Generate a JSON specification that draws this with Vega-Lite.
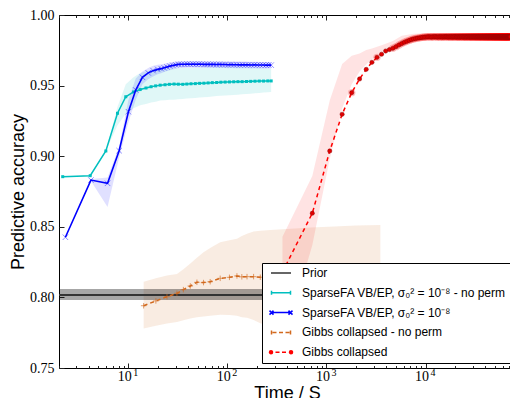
{
"$schema": "https://vega.github.io/schema/vega-lite/v6.json",
"width": 456, "height": 353,
"autosize": {"type": "none"},
"padding": {"left": 59, "top": 15, "right": 0, "bottom": 30},
"background": "white",
"config": {
  "view": {"stroke": "#000", "strokeWidth": 1},
  "axis": {"grid": false, "domain": false, "labelFont": "Liberation Serif", "labelFontSize": 14, "labelColor": "#000", "titleFont": "Liberation Sans", "titleFontSize": 18, "titleFontWeight": "normal", "titleColor": "#000", "tickColor": "#222", "tickWidth": 1, "labelFlush": false, "labelOverlap": false, "labelBound": false}
},
"datasets": {
  "prior": [{"s": "prior", "y": 0.8017, "lo": 0.7982, "hi": 0.8060}],
  "vbnp": [
    {"s":"vbnp","x":2.18,"y":0.8855,"lo":0.8855,"hi":0.8855},
    {"s":"vbnp","x":4.13,"y":0.8862,"lo":0.8862,"hi":0.8862},
    {"s":"vbnp","x":5.94,"y":0.9037,"lo":0.9037,"hi":0.9037},
    {"s":"vbnp","x":7.79,"y":0.9304,"lo":0.922,"hi":0.935},
    {"s":"vbnp","x":9.44,"y":0.9421,"lo":0.930,"hi":0.951},
    {"s":"vbnp","x":11.3,"y":0.9455,"lo":0.934,"hi":0.956},
    {"s":"vbnp","x":13.2,"y":0.9472,"lo":0.936,"hi":0.959},
    {"s":"vbnp","x":15.1,"y":0.9483,"lo":0.937,"hi":0.960},
    {"s":"vbnp","x":17.0,"y":0.9492,"lo":0.938,"hi":0.961},
    {"s":"vbnp","x":18.9,"y":0.9498,"lo":0.9385,"hi":0.9615},
    {"s":"vbnp","x":21,"y":0.9503,"lo":0.9395,"hi":0.9617},
    {"s":"vbnp","x":23.5,"y":0.9506,"lo":0.9397,"hi":0.9619},
    {"s":"vbnp","x":26,"y":0.9509,"lo":0.9399,"hi":0.9621},
    {"s":"vbnp","x":29,"y":0.9511,"lo":0.9400,"hi":0.9622},
    {"s":"vbnp","x":32,"y":0.9510,"lo":0.9403,"hi":0.9623},
    {"s":"vbnp","x":35.5,"y":0.9509,"lo":0.9405,"hi":0.9624},
    {"s":"vbnp","x":39,"y":0.9511,"lo":0.9408,"hi":0.9625},
    {"s":"vbnp","x":43,"y":0.9513,"lo":0.9410,"hi":0.9625},
    {"s":"vbnp","x":47.5,"y":0.9514,"lo":0.9413,"hi":0.9626},
    {"s":"vbnp","x":52.5,"y":0.9516,"lo":0.9415,"hi":0.9627},
    {"s":"vbnp","x":58,"y":0.9517,"lo":0.9418,"hi":0.9628},
    {"s":"vbnp","x":64,"y":0.9519,"lo":0.9420,"hi":0.9628},
    {"s":"vbnp","x":70.5,"y":0.9521,"lo":0.9423,"hi":0.9629},
    {"s":"vbnp","x":78,"y":0.9522,"lo":0.9426,"hi":0.9630},
    {"s":"vbnp","x":86,"y":0.9524,"lo":0.9428,"hi":0.9630},
    {"s":"vbnp","x":95,"y":0.9525,"lo":0.9430,"hi":0.9630},
    {"s":"vbnp","x":105,"y":0.9526,"lo":0.9432,"hi":0.9630},
    {"s":"vbnp","x":116,"y":0.9527,"lo":0.9434,"hi":0.9630},
    {"s":"vbnp","x":128,"y":0.9528,"lo":0.9436,"hi":0.9630},
    {"s":"vbnp","x":141,"y":0.9528,"lo":0.9438,"hi":0.9629},
    {"s":"vbnp","x":156,"y":0.9529,"lo":0.9441,"hi":0.9628},
    {"s":"vbnp","x":172,"y":0.9530,"lo":0.9443,"hi":0.9627},
    {"s":"vbnp","x":190,"y":0.9531,"lo":0.9446,"hi":0.9626},
    {"s":"vbnp","x":210,"y":0.9532,"lo":0.9448,"hi":0.9625},
    {"s":"vbnp","x":232,"y":0.9532,"lo":0.9451,"hi":0.9623},
    {"s":"vbnp","x":256,"y":0.9533,"lo":0.9453,"hi":0.9621},
    {"s":"vbnp","x":277,"y":0.9533,"lo":0.9455,"hi":0.9620}
  ],
  "vb": [
    {"s":"vb","x":2.32,"y":0.8426,"lo":0.8426,"hi":0.8426},
    {"s":"vb","x":4.2,"y":0.8831,"lo":0.8825,"hi":0.8838},
    {"s":"vb","x":6.18,"y":0.8808,"lo":0.8640,"hi":0.8850},
    {"s":"vb","x":8.09,"y":0.9039,"lo":0.8990,"hi":0.9067},
    {"s":"vb","x":10.04,"y":0.9315,"lo":0.9240,"hi":0.9400},
    {"s":"vb","x":11.9,"y":0.9469,"lo":0.9400,"hi":0.9550},
    {"s":"vb","x":13.9,"y":0.9559,"lo":0.9510,"hi":0.9600},
    {"s":"vb","x":15.9,"y":0.9590,"lo":0.9545,"hi":0.9625},
    {"s":"vb","x":17.8,"y":0.9606,"lo":0.9565,"hi":0.9640},
    {"s":"vb","x":19.8,"y":0.9615,"lo":0.9580,"hi":0.9648},
    {"s":"vb","x":21.5,"y":0.9620,"lo":0.9588,"hi":0.9652},
    {"s":"vb","x":23,"y":0.9626,"lo":0.9596,"hi":0.9655},
    {"s":"vb","x":24.6,"y":0.9632,"lo":0.9603,"hi":0.9659},
    {"s":"vb","x":26.3,"y":0.9638,"lo":0.9609,"hi":0.9663},
    {"s":"vb","x":28.2,"y":0.9643,"lo":0.9614,"hi":0.9667},
    {"s":"vb","x":30.1,"y":0.9647,"lo":0.9619,"hi":0.9670},
    {"s":"vb","x":32.2,"y":0.9650,"lo":0.9622,"hi":0.9672},
    {"s":"vb","x":34.5,"y":0.9651,"lo":0.9624,"hi":0.9673},
    {"s":"vb","x":36.9,"y":0.9651,"lo":0.9625,"hi":0.9673},
    {"s":"vb","x":39.5,"y":0.9652,"lo":0.9626,"hi":0.9674},
    {"s":"vb","x":42.2,"y":0.9651,"lo":0.9626,"hi":0.9674},
    {"s":"vb","x":45.2,"y":0.9652,"lo":0.9627,"hi":0.9674},
    {"s":"vb","x":48.3,"y":0.9651,"lo":0.9626,"hi":0.9674},
    {"s":"vb","x":51.7,"y":0.9652,"lo":0.9627,"hi":0.9674},
    {"s":"vb","x":55.3,"y":0.9651,"lo":0.9626,"hi":0.9674},
    {"s":"vb","x":59.2,"y":0.9650,"lo":0.9625,"hi":0.9673},
    {"s":"vb","x":63.3,"y":0.9651,"lo":0.9626,"hi":0.9673},
    {"s":"vb","x":67.8,"y":0.9650,"lo":0.9625,"hi":0.9673},
    {"s":"vb","x":72.5,"y":0.9650,"lo":0.9625,"hi":0.9672},
    {"s":"vb","x":77.6,"y":0.9649,"lo":0.9624,"hi":0.9672},
    {"s":"vb","x":83,"y":0.9650,"lo":0.9625,"hi":0.9672},
    {"s":"vb","x":88.8,"y":0.9649,"lo":0.9624,"hi":0.9672},
    {"s":"vb","x":95,"y":0.9649,"lo":0.9624,"hi":0.9671},
    {"s":"vb","x":101.7,"y":0.9648,"lo":0.9623,"hi":0.9671},
    {"s":"vb","x":108.8,"y":0.9649,"lo":0.9624,"hi":0.9671},
    {"s":"vb","x":116.4,"y":0.9648,"lo":0.9623,"hi":0.9671},
    {"s":"vb","x":124.6,"y":0.9648,"lo":0.9623,"hi":0.9670},
    {"s":"vb","x":133.3,"y":0.9647,"lo":0.9622,"hi":0.9670},
    {"s":"vb","x":142.6,"y":0.9648,"lo":0.9623,"hi":0.9670},
    {"s":"vb","x":152.6,"y":0.9647,"lo":0.9622,"hi":0.9670},
    {"s":"vb","x":163.3,"y":0.9647,"lo":0.9622,"hi":0.9669},
    {"s":"vb","x":174.7,"y":0.9646,"lo":0.9621,"hi":0.9669},
    {"s":"vb","x":186.9,"y":0.9647,"lo":0.9622,"hi":0.9669},
    {"s":"vb","x":200,"y":0.9646,"lo":0.9621,"hi":0.9669},
    {"s":"vb","x":214,"y":0.9646,"lo":0.9621,"hi":0.9668},
    {"s":"vb","x":229,"y":0.9646,"lo":0.9621,"hi":0.9668},
    {"s":"vb","x":245,"y":0.9645,"lo":0.9620,"hi":0.9668},
    {"s":"vb","x":262,"y":0.9646,"lo":0.9621,"hi":0.9668},
    {"s":"vb","x":277,"y":0.9645,"lo":0.9620,"hi":0.9667}
  ],
  "gnp": [
    {"s":"gnp","x":14.3,"y":0.7941,"lo":0.778,"hi":0.811},
    {"s":"gnp","x":19,"y":0.7975,"lo":0.780,"hi":0.8135},
    {"s":"gnp","x":24.6,"y":0.8005,"lo":0.7815,"hi":0.8155},
    {"s":"gnp","x":31,"y":0.8029,"lo":0.7825,"hi":0.8165},
    {"s":"gnp","x":36,"y":0.8055,"lo":0.7838,"hi":0.820},
    {"s":"gnp","x":42.3,"y":0.8081,"lo":0.785,"hi":0.824},
    {"s":"gnp","x":49.3,"y":0.8107,"lo":0.786,"hi":0.828},
    {"s":"gnp","x":57.5,"y":0.8105,"lo":0.7865,"hi":0.832},
    {"s":"gnp","x":67.1,"y":0.8111,"lo":0.787,"hi":0.835},
    {"s":"gnp","x":84.7,"y":0.8135,"lo":0.7878,"hi":0.839},
    {"s":"gnp","x":105,"y":0.8142,"lo":0.7875,"hi":0.8405},
    {"s":"gnp","x":125,"y":0.8152,"lo":0.787,"hi":0.8415},
    {"s":"gnp","x":140,"y":0.8146,"lo":0.786,"hi":0.8435},
    {"s":"gnp","x":158,"y":0.8147,"lo":0.7855,"hi":0.845},
    {"s":"gnp","x":184,"y":0.8147,"lo":0.784,"hi":0.8466},
    {"s":"gnp","x":215,"y":0.8143,"lo":0.7817,"hi":0.8472},
    {"s":"gnp","x":271,"y":0.8143,"lo":0.780,"hi":0.8478},
    {"s":"gnp","x":400,"y":0.8150,"lo":0.780,"hi":0.8485},
    {"s":"gnp","x":700,"y":0.8155,"lo":0.780,"hi":0.8495},
    {"s":"gnp","x":1200,"y":0.8158,"lo":0.781,"hi":0.8503},
    {"s":"gnp","x":2000,"y":0.8160,"lo":0.781,"hi":0.851},
    {"s":"gnp","x":3500,"y":0.8162,"lo":0.781,"hi":0.8513}
  ],
  "gband": [
    {"x":360,"lo":0.765,"hi":0.843},
    {"x":720,"lo":0.837,"hi":0.886},
    {"x":1080,"lo":0.898,"hi":0.9395},
    {"x":1440,"lo":0.9337,"hi":0.9653},
    {"x":1800,"lo":0.951,"hi":0.9711},
    {"x":2160,"lo":0.9599,"hi":0.9728},
    {"x":2520,"lo":0.965,"hi":0.9752},
    {"x":2880,"lo":0.9686,"hi":0.9762},
    {"x":3240,"lo":0.9715,"hi":0.9775},
    {"x":3600,"lo":0.9734,"hi":0.9786},
    {"x":3960,"lo":0.9748,"hi":0.9796},
    {"x":4680,"lo":0.9774,"hi":0.9815},
    {"x":5760,"lo":0.9797,"hi":0.9853},
    {"x":7560,"lo":0.9825,"hi":0.9867},
    {"x":9360,"lo":0.9834,"hi":0.987},
    {"x":15000,"lo":0.9828,"hi":0.9869},
    {"x":30000,"lo":0.9827,"hi":0.9868},
    {"x":72000,"lo":0.9826,"hi":0.9868}
  ],
  "g": [
    {"s":"g","x":360,"y":0.818},{"s":"g","x":720,"y":0.8596},{"s":"g","x":1080,"y":0.9037},{"s":"g","x":1440,"y":0.9297},
    {"s":"g","x":1800,"y":0.9450},{"s":"g","x":2160,"y":0.9547},{"s":"g","x":2520,"y":0.9615},{"s":"g","x":2880,"y":0.9665},
    {"s":"g","x":3240,"y":0.9700},{"s":"g","x":3600,"y":0.9722},{"s":"g","x":3960,"y":0.9745},{"s":"g","x":4320,"y":0.9755},
    {"s":"g","x":4680,"y":0.9764},{"s":"g","x":5040,"y":0.9776},{"s":"g","x":5400,"y":0.9788},{"s":"g","x":5760,"y":0.9798},
    {"s":"g","x":6120,"y":0.9807},{"s":"g","x":6480,"y":0.9814},{"s":"g","x":6840,"y":0.9820},{"s":"g","x":7200,"y":0.9826},
    {"s":"g","x":7560,"y":0.9830},{"s":"g","x":7920,"y":0.9833},{"s":"g","x":8280,"y":0.9836},{"s":"g","x":8640,"y":0.9838},
    {"s":"g","x":9000,"y":0.9840},{"s":"g","x":9360,"y":0.9842},{"s":"g","x":9720,"y":0.9843},{"s":"g","x":10080,"y":0.9844},
    {"s":"g","x":10440,"y":0.9845},{"s":"g","x":10800,"y":0.9846},{"s":"g","x":11160,"y":0.9845},{"s":"g","x":11520,"y":0.9844},
    {"s":"g","x":11880,"y":0.9846},{"s":"g","x":12240,"y":0.9845},{"s":"g","x":12600,"y":0.9847},{"s":"g","x":12960,"y":0.9845},
    {"s":"g","x":13320,"y":0.9844},{"s":"g","x":13680,"y":0.9846},{"s":"g","x":14040,"y":0.9845},{"s":"g","x":14400,"y":0.9846},
    {"s":"g","x":14760,"y":0.9844},{"s":"g","x":15120,"y":0.9845},{"s":"g","x":15480,"y":0.9846},{"s":"g","x":15840,"y":0.9845},
    {"s":"g","x":16200,"y":0.9847},{"s":"g","x":16560,"y":0.9845},{"s":"g","x":16920,"y":0.9844},{"s":"g","x":17280,"y":0.9846},
    {"s":"g","x":17640,"y":0.9845},{"s":"g","x":18000,"y":0.9846},{"s":"g","x":18360,"y":0.9845},{"s":"g","x":18720,"y":0.9844},
    {"s":"g","x":19080,"y":0.9846},{"s":"g","x":19440,"y":0.9845},{"s":"g","x":19800,"y":0.9847},{"s":"g","x":20160,"y":0.9845},
    {"s":"g","x":20520,"y":0.9844},{"s":"g","x":20880,"y":0.9846},{"s":"g","x":21240,"y":0.9845},{"s":"g","x":21600,"y":0.9846},
    {"s":"g","x":21960,"y":0.9844},{"s":"g","x":22320,"y":0.9845},{"s":"g","x":22680,"y":0.9846},{"s":"g","x":23040,"y":0.9845},
    {"s":"g","x":23400,"y":0.9847},{"s":"g","x":23760,"y":0.9845},{"s":"g","x":24120,"y":0.9844},{"s":"g","x":24480,"y":0.9846},
    {"s":"g","x":24840,"y":0.9845},{"s":"g","x":25200,"y":0.9846},{"s":"g","x":25560,"y":0.9845},{"s":"g","x":25920,"y":0.9844},
    {"s":"g","x":26280,"y":0.9846},{"s":"g","x":26640,"y":0.9845},{"s":"g","x":27000,"y":0.9847},{"s":"g","x":27360,"y":0.9845},
    {"s":"g","x":27720,"y":0.9844},{"s":"g","x":28080,"y":0.9846},{"s":"g","x":28440,"y":0.9845},{"s":"g","x":28800,"y":0.9846},
    {"s":"g","x":29160,"y":0.9844},{"s":"g","x":29520,"y":0.9845},{"s":"g","x":29880,"y":0.9846},{"s":"g","x":30240,"y":0.9845},
    {"s":"g","x":30600,"y":0.9847},{"s":"g","x":30960,"y":0.9845},{"s":"g","x":31320,"y":0.9844},{"s":"g","x":31680,"y":0.9846},
    {"s":"g","x":32040,"y":0.9845},{"s":"g","x":32400,"y":0.9846},{"s":"g","x":32760,"y":0.9845},{"s":"g","x":33120,"y":0.9844},
    {"s":"g","x":33480,"y":0.9846},{"s":"g","x":33840,"y":0.9845},{"s":"g","x":34200,"y":0.9847},{"s":"g","x":34560,"y":0.9845},
    {"s":"g","x":34920,"y":0.9844},{"s":"g","x":35280,"y":0.9846},{"s":"g","x":35640,"y":0.9845},{"s":"g","x":36000,"y":0.9846},
    {"s":"g","x":36360,"y":0.9844},{"s":"g","x":36720,"y":0.9845},{"s":"g","x":37080,"y":0.9846},{"s":"g","x":37440,"y":0.9845},
    {"s":"g","x":37800,"y":0.9847},{"s":"g","x":38160,"y":0.9845},{"s":"g","x":38520,"y":0.9844},{"s":"g","x":38880,"y":0.9846},
    {"s":"g","x":39240,"y":0.9845},{"s":"g","x":39600,"y":0.9846},{"s":"g","x":39960,"y":0.9845},{"s":"g","x":40320,"y":0.9844},
    {"s":"g","x":40680,"y":0.9846},{"s":"g","x":41040,"y":0.9845},{"s":"g","x":41400,"y":0.9847},{"s":"g","x":41760,"y":0.9845},
    {"s":"g","x":42120,"y":0.9844},{"s":"g","x":42480,"y":0.9846},{"s":"g","x":42840,"y":0.9845},{"s":"g","x":43200,"y":0.9846},
    {"s":"g","x":43560,"y":0.9844},{"s":"g","x":43920,"y":0.9845},{"s":"g","x":44280,"y":0.9846},{"s":"g","x":44640,"y":0.9845},
    {"s":"g","x":45000,"y":0.9847},{"s":"g","x":45360,"y":0.9845},{"s":"g","x":45720,"y":0.9844},{"s":"g","x":46080,"y":0.9846},
    {"s":"g","x":46440,"y":0.9845},{"s":"g","x":46800,"y":0.9846},{"s":"g","x":47160,"y":0.9845},{"s":"g","x":47520,"y":0.9844},
    {"s":"g","x":47880,"y":0.9846},{"s":"g","x":48240,"y":0.9845},{"s":"g","x":48600,"y":0.9847},{"s":"g","x":48960,"y":0.9845},
    {"s":"g","x":49320,"y":0.9844},{"s":"g","x":49680,"y":0.9846},{"s":"g","x":50040,"y":0.9845},{"s":"g","x":50400,"y":0.9846},
    {"s":"g","x":50760,"y":0.9844},{"s":"g","x":51120,"y":0.9845},{"s":"g","x":51480,"y":0.9846},{"s":"g","x":51840,"y":0.9845},
    {"s":"g","x":52200,"y":0.9847},{"s":"g","x":52560,"y":0.9845},{"s":"g","x":52920,"y":0.9844},{"s":"g","x":53280,"y":0.9846},
    {"s":"g","x":53640,"y":0.9845},{"s":"g","x":54000,"y":0.9846},{"s":"g","x":54360,"y":0.9845},{"s":"g","x":54720,"y":0.9844},
    {"s":"g","x":55080,"y":0.9846},{"s":"g","x":55440,"y":0.9845},{"s":"g","x":55800,"y":0.9847},{"s":"g","x":56160,"y":0.9845},
    {"s":"g","x":56520,"y":0.9844},{"s":"g","x":56880,"y":0.9846},{"s":"g","x":57240,"y":0.9845},{"s":"g","x":57600,"y":0.9846},
    {"s":"g","x":57960,"y":0.9844},{"s":"g","x":58320,"y":0.9845},{"s":"g","x":58680,"y":0.9846},{"s":"g","x":59040,"y":0.9845},
    {"s":"g","x":59400,"y":0.9847},{"s":"g","x":59760,"y":0.9845},{"s":"g","x":60120,"y":0.9844},{"s":"g","x":60480,"y":0.9846},
    {"s":"g","x":60840,"y":0.9845},{"s":"g","x":61200,"y":0.9846},{"s":"g","x":61560,"y":0.9845},{"s":"g","x":61920,"y":0.9844},
    {"s":"g","x":62280,"y":0.9846},{"s":"g","x":62640,"y":0.9845},{"s":"g","x":63000,"y":0.9847},{"s":"g","x":63360,"y":0.9845},
    {"s":"g","x":63720,"y":0.9844},{"s":"g","x":64080,"y":0.9846},{"s":"g","x":64440,"y":0.9845},{"s":"g","x":64800,"y":0.9846},
    {"s":"g","x":65160,"y":0.9844},{"s":"g","x":65520,"y":0.9845},{"s":"g","x":65880,"y":0.9846},{"s":"g","x":66240,"y":0.9845},
    {"s":"g","x":66600,"y":0.9847},{"s":"g","x":66960,"y":0.9845},{"s":"g","x":67320,"y":0.9844},{"s":"g","x":67680,"y":0.9846},
    {"s":"g","x":68040,"y":0.9845},{"s":"g","x":68400,"y":0.9846},{"s":"g","x":68760,"y":0.9845},{"s":"g","x":69120,"y":0.9844},
    {"s":"g","x":69480,"y":0.9846},{"s":"g","x":69840,"y":0.9845},{"s":"g","x":70200,"y":0.9847},{"s":"g","x":70560,"y":0.9845},
    {"s":"g","x":70920,"y":0.9844},{"s":"g","x":71280,"y":0.9846},{"s":"g","x":71640,"y":0.9845},{"s":"g","x":72000,"y":0.9846}
  ]
},
"resolve": {"axis": {"x": "independent", "y": "independent"}},
"layer": [
  {"data": {"name": "gnp"},
   "mark": {"type": "area", "color": "#d2691e", "opacity": 0.13},
   "encoding": {
     "x": {"field": "x", "type": "quantitative", "scale": {"type": "log", "domain": [2, 80000], "nice": false},
           "axis": {"orient": "bottom", "values": [10, 100, 1000, 10000], "tickSize": -5, "labelPadding": 6, "labelExpr": "'10'", "labelOffset": -4, "title": "Time / S", "titlePadding": 1.5}},
     "y": {"field": "lo", "type": "quantitative", "scale": {"domain": [0.75, 1.0], "nice": false, "zero": false},
           "axis": {"orient": "left", "values": [0.75, 0.8, 0.85, 0.9, 0.95, 1.0], "format": ".2f", "tickSize": -5, "labelPadding": 10, "title": "Predictive accuracy", "titlePadding": 2}},
     "y2": {"field": "hi"}}},
  {"data": {"name": "vbnp"},
   "mark": {"type": "area", "color": "#00bfbf", "opacity": 0.12},
   "encoding": {
     "x": {"field": "x", "type": "quantitative",
           "axis": {"orient": "bottom", "values": [10, 100, 1000, 10000], "ticks": false, "tickSize": 0, "labelPadding": -1, "labelOffset": 7, "labelFontSize": 10, "labelExpr": "datum.value == 10 ? '1' : datum.value == 100 ? '2' : datum.value == 1000 ? '3' : '4'", "title": null}},
     "y": {"field": "lo", "type": "quantitative", "axis": null},
     "y2": {"field": "hi"}}},
  {"data": {"name": "vb"},
   "mark": {"type": "area", "color": "#0000ff", "opacity": 0.12},
   "encoding": {
     "x": {"field": "x", "type": "quantitative",
           "axis": {"orient": "bottom", "values": [2,3,4,5,6,7,8,9,20,30,40,50,60,70,80,90,200,300,400,500,600,700,800,900,2000,3000,4000,5000,6000,7000,8000,9000,20000,30000,40000,50000,60000,70000], "tickSize": -2.5, "labels": false, "title": null}},
     "y": {"field": "lo", "type": "quantitative", "axis": null},
     "y2": {"field": "hi"}}},
  {"data": {"name": "gband"},
   "mark": {"type": "area", "color": "#ff0000", "opacity": 0.11},
   "encoding": {
     "x": {"field": "x", "type": "quantitative",
           "axis": {"orient": "top", "values": [10, 100, 1000, 10000], "tickSize": -5, "labels": false, "title": null}},
     "y": {"field": "lo", "type": "quantitative", "axis": null},
     "y2": {"field": "hi"}}},
  {"data": {"name": "prior"},
   "mark": {"type": "rect", "color": "#000", "opacity": 0.35},
   "encoding": {
     "y": {"field": "lo", "type": "quantitative", "axis": null},
     "y2": {"field": "hi"}}},
  {"data": {"name": "prior"},
   "mark": {"type": "rule", "strokeWidth": 2},
   "encoding": {
     "y": {"field": "y", "type": "quantitative", "axis": null},
     "color": {"field": "s", "type": "nominal",
       "scale": {"domain": ["prior", "vbnp", "vb", "gnp", "g"], "range": ["#333333", "#00bfbf", "#0000ff", "#d2691e", "#ff0000"]},
       "legend": {"title": null, "orient": "bottom-right", "offset": 5, "padding": 4, "rowPadding": 7.8, "fillColor": "#ffffff", "strokeColor": "#000000", "symbolSize": 100, "symbolStrokeWidth": 1.5, "symbolOffset": 9, "labelOffset": 15, "labelFont": "Liberation Sans", "labelFontSize": 12, "labelColor": "#000", "labelLimit": 400,
         "labelExpr": "datum.value == 'prior' ? 'Prior' : datum.value == 'vbnp' ? 'SparseFA VB/EP, σ₀² = 10⁻⁸ - no perm' : datum.value == 'vb' ? 'SparseFA VB/EP, σ₀² = 10⁻⁸' : datum.value == 'gnp' ? 'Gibbs collapsed - no perm' : 'Gibbs collapsed'",
         "encode": {"symbols": {"update": {
           "shape": {"signal": "datum.value == 'prior' ? 'M-2,0H2' : datum.value == 'vbnp' ? 'M-2,0H2M-1.9,-0.4V0.4M1.9,-0.4V0.4' : datum.value == 'vb' ? 'M-2,0H2M-2.3,-0.4L-1.5,0.4M-2.3,0.4L-1.5,-0.4M1.5,-0.4L2.3,0.4M1.5,0.4L2.3,-0.4' : datum.value == 'gnp' ? 'M-1.7,0H-0.9M-0.4,0H0.4M0.9,0H1.7M-1.9,-0.4V0.4M1.9,-0.4V0.4' : 'M-2.3,0a0.3,0.3 0 1,0 0.6,0a0.3,0.3 0 1,0 -0.6,0M1.7,0a0.3,0.3 0 1,0 0.6,0a0.3,0.3 0 1,0 -0.6,0M-1.1,0H-0.3M0.2,0H1'"},
           "stroke": {"scale": "color", "field": "value"},
           "strokeWidth": {"value": 1.5},
           "fill": {"value": "#ff0000"}}}}}}}},
  {"data": {"name": "gnp"},
   "mark": {"type": "line", "strokeWidth": 1.5, "strokeDash": [4, 3]},
   "encoding": {
     "x": {"field": "x", "type": "quantitative", "axis": null},
     "y": {"field": "y", "type": "quantitative", "axis": null},
     "color": {"field": "s", "type": "nominal"}}},
  {"data": {"name": "gnp"},
   "mark": {"type": "point", "shape": "M-1,0H1M0,-1V1", "size": 30, "filled": false, "color": "#d2691e", "strokeWidth": 0.8, "opacity": 0.8},
   "encoding": {
     "x": {"field": "x", "type": "quantitative", "axis": null},
     "y": {"field": "y", "type": "quantitative", "axis": null}}},
  {"data": {"name": "vbnp"},
   "mark": {"type": "line", "strokeWidth": 1.5},
   "encoding": {
     "x": {"field": "x", "type": "quantitative",
           "axis": {"orient": "top", "values": [2,3,4,5,6,7,8,9,20,30,40,50,60,70,80,90,200,300,400,500,600,700,800,900,2000,3000,4000,5000,6000,7000,8000,9000,20000,30000,40000,50000,60000,70000], "tickSize": -2.5, "labels": false, "title": null}},
     "y": {"field": "y", "type": "quantitative", "axis": null},
     "color": {"field": "s", "type": "nominal"}}},
  {"data": {"name": "vbnp"},
   "mark": {"type": "point", "shape": "square", "size": 9, "filled": true, "color": "#00bfbf", "opacity": 1},
   "encoding": {
     "x": {"field": "x", "type": "quantitative", "axis": null},
     "y": {"field": "y", "type": "quantitative", "axis": null}}},
  {"data": {"name": "vb"},
   "mark": {"type": "line", "strokeWidth": 1.6},
   "encoding": {
     "x": {"field": "x", "type": "quantitative", "axis": null},
     "y": {"field": "y", "type": "quantitative", "axis": null},
     "color": {"field": "s", "type": "nominal"}}},
  {"data": {"name": "vb"},
   "mark": {"type": "point", "shape": "M-1,-1L1,1M-1,1L1,-1", "size": 30, "filled": false, "color": "#0000ff", "strokeWidth": 0.8, "opacity": 0.55},
   "encoding": {
     "x": {"field": "x", "type": "quantitative", "axis": null},
     "y": {"field": "y", "type": "quantitative", "axis": null}}},
  {"data": {"name": "g"},
   "mark": {"type": "line", "strokeWidth": 1.5, "strokeDash": [4, 3.5]},
   "encoding": {
     "x": {"field": "x", "type": "quantitative", "axis": null},
     "y": {"field": "y", "type": "quantitative", "axis": null},
     "color": {"field": "s", "type": "nominal"}}},
  {"data": {"name": "g"},
   "transform": [{"filter": "datum.x == 1800 || datum.x == 3240 || datum.x >= 4680"}],
   "mark": {"type": "circle", "size": 55, "color": "#ff0000", "opacity": 0.25},
   "encoding": {
     "x": {"field": "x", "type": "quantitative", "axis": null},
     "y": {"field": "y", "type": "quantitative", "axis": null}}},
  {"data": {"name": "g"},
   "mark": {"type": "circle", "size": 18, "fill": "#e00000", "stroke": "#900000", "strokeWidth": 0.5, "opacity": 1},
   "encoding": {
     "x": {"field": "x", "type": "quantitative", "axis": null},
     "y": {"field": "y", "type": "quantitative", "axis": null}}}
]
}
